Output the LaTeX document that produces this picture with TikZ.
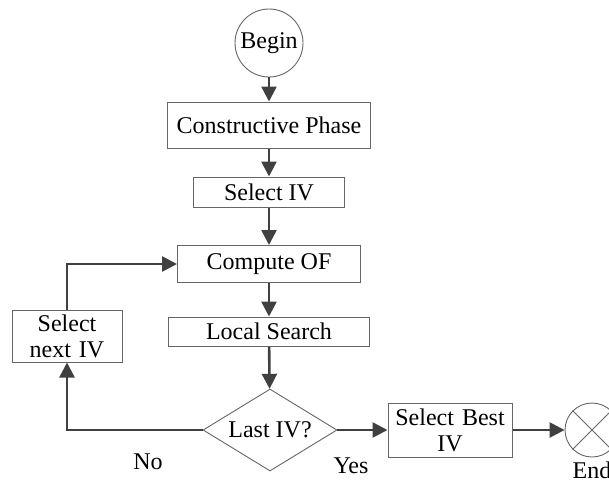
\documentclass[tikz,border=0pt]{standalone}
\usepackage{fontspec}
\setmainfont{Liberation Serif}
\usetikzlibrary{arrows.meta,shapes.geometric}
\begin{document}
\begin{tikzpicture}[x=1pt,y=-1pt,
  every node/.style={font=\fontsize{24}{26}\selectfont, text=black, inner sep=0pt},
  box/.style={draw=black!60, line width=1pt, rectangle, align=center},
  conn/.style={draw=black!75, line width=2.6pt, -{Triangle[length=15pt,width=15pt]}}]
\useasboundingbox (0,0) rectangle (609,480);
\clip (0,0) rectangle (609,480);
\node[circle, draw=black!60, line width=0.9pt, minimum size=68pt] (begin) at (269,43) {Begin};
\node[box, minimum width=203pt, minimum height=46pt] (cp) at (269,125) {Constructive Phase};
\node[box, minimum width=151pt, minimum height=30pt] (siv) at (269,192) {Select IV};
\node[box, minimum width=183pt, minimum height=37pt] (cof) at (269,264) {Compute OF};
\node[box, minimum width=201pt, minimum height=29pt] (ls) at (269,331.5) {Local Search};
\node[diamond, draw=black!60, line width=0.9pt, aspect=1.63, minimum width=134pt, minimum height=82pt] (last) at (270,430) {Last IV?};
\node[box, minimum width=110pt, minimum height=52pt, text width=104pt, align=center] (snext) at (67,336) {\fontsize{24}{27}\selectfont Select\\next IV};
\node[box, minimum width=124pt, minimum height=54pt, text width=120pt, align=center] (sbest) at (450,430) {\fontsize{24}{27}\selectfont Select Best\\IV};
\node[circle, draw=black!60, line width=0.9pt, minimum size=54pt] (end) at (592,430) {};
\draw[black!60, line width=0.9pt] (end.45) -- (end.225) (end.135) -- (end.-45);
\node (endlbl) at (592,470) {End};
\node (no) at (148,462) {No};
\node (yes) at (351,466) {Yes};
\coordinate (lc) at (67,430);
\coordinate (tc) at (67,264);
\draw[conn] (begin) -- (cp);
\draw[conn] (cp) -- (siv);
\draw[conn] (siv) -- (cof);
\draw[conn] (cof) -- (ls);
\draw[conn] (ls) -- (last);
\draw[conn] (last) -- (sbest);
\draw[conn] (sbest) -- (end);
\draw[conn] (last.west) -- (lc) -- (snext.south);
\draw[conn] (snext.north) -- (tc) -- (cof.west);
\end{tikzpicture}
\end{document}
